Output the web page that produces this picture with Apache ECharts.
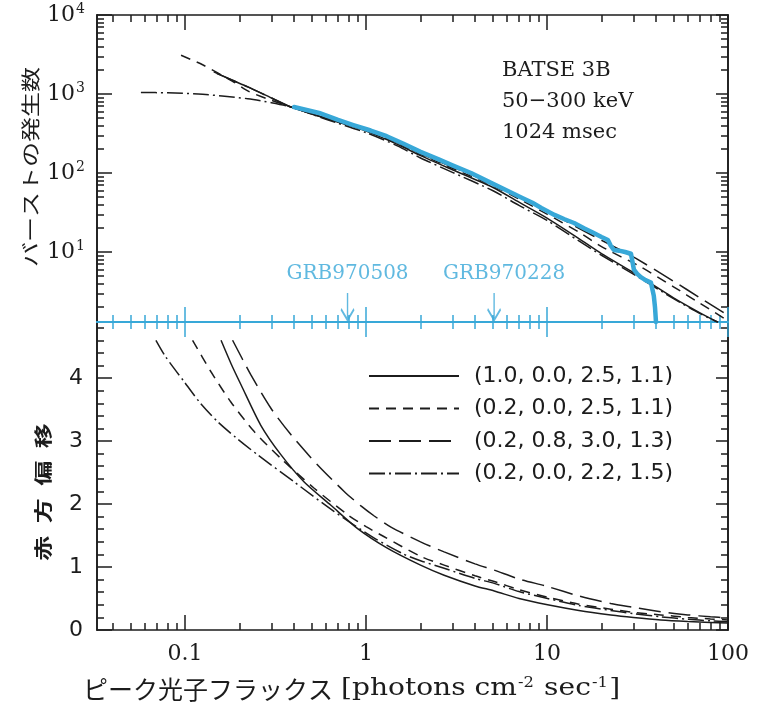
<!DOCTYPE html>
<html><head><meta charset="utf-8">
<script src="https://cdn.jsdelivr.net/npm/echarts@6/dist/echarts.min.js"></script>
<style>html,body{margin:0;padding:0;background:#fff}#c{width:763px;height:703px}</style>
</head><body><div id="c"></div>
<script>
// ---------- axis ranges & ticks ----------
const X_MIN = 0.0326, X_MAX = 100;
const N_MIN = 1.3, N_MAX = 10000;
const Z_MIN = 0, Z_MAX = 4.89;

const xMajorTicks = [0.1, 1, 10, 100];
const xMinorTicks = [0.04,0.05,0.06,0.07,0.08,0.09, 0.2,0.3,0.4,0.5,0.6,0.7,0.8,0.9,
                     2,3,4,5,6,7,8,9, 20,30,40,50,60,70,80,90];
const xTickLabels = [0.1, 1, 10, 100];
const nMajorTicks = [10, 100, 1000, 10000];
const nMinorTicks = [2,3,4,5,6,7,8,9, 20,30,40,50,60,70,80,90,
                     200,300,400,500,600,700,800,900, 2000,3000,4000,5000,6000,7000,8000,9000];
const nTickLabels = [10, 100, 1000, 10000];
const zMajorTicks = [0, 1, 2, 3, 4];
const zMinorTicks = [0.2,0.4,0.6,0.8, 1.2,1.4,1.6,1.8, 2.2,2.4,2.6,2.8, 3.2,3.4,3.6,3.8, 4.2,4.4,4.6,4.8];
const zTickLabels = [0, 1, 2, 3, 4];

const modelNames = ['(1.0, 0.0, 2.5, 1.1)', '(0.2, 0.0, 2.5, 1.1)', '(0.2, 0.8, 3.0, 1.3)', '(0.2, 0.0, 2.2, 1.5)'];
const infoLines = ['BATSE 3B', '50\u2212300 keV', '1024 msec'];
const xTitleJa = 'ピーク光子フラックス';
const yTitleTop = 'バーストの発生数';
const yTitleBottom = '赤\u2002方\u2002偏\u2002移';

// ---------- top panel: burst counts N(>P) ----------
const batseFlux  = [0.40,0.55,0.7,0.85,1.06,1.3,1.6,2.0,2.5,3.0,3.8,4.9,6.0,7.2,8.3,9.3,11,12.5,14.1,16,18,20,21.7,22.5,23.4,25,27,29.1,30.2,31.5,33,35,37.5,38.9,39.5,40];
const batseCount = [684,575,470,405,345,292,236,185,150,125,100,75,60,49,42,36,29.5,26,23.3,20,17.5,15.5,14.2,12,10.6,10.4,10.0,9.5,6.0,5.3,4.8,4.4,4.1,2.8,2.0,1.3];

const topSolidFlux  = [0.144,0.18,0.222,0.3,0.385,0.6,1.0,1.5,2.0,3.0,5.0,7.0,10,15,20,30,50,70,88];
const topSolidCount = [1905,1514,1230,891,684,490,339,229,166,110,66,42.7,26.9,14.8,9.55,5.5,2.63,1.70,1.29];

const topShortFlux  = [0.095,0.125,0.183,0.226,0.3,0.385,0.6,1.0,1.5,2.0,3.0,5.0,7.0,10,15,20,33,50,70,100];
const topShortCount = [3090,2344,1445,1072,832,684,495,347,234,172,115,69,46.8,30.2,17.8,11.7,6.46,3.63,2.24,1.35];

const topLongFlux  = [0.15,0.18,0.222,0.3,0.385,0.6,1.0,1.5,2.0,3.0,5.0,7.0,10,15,20,24.5,31,50,70,100];
const topLongCount = [1820,1514,1230,891,684,495,351,240,176,119,73.3,50.1,33.1,20.0,14.1,11.1,8.3,4.27,2.63,1.58];

const topDotFlux  = [0.057,0.08,0.118,0.16,0.222,0.3,0.385,0.6,1.0,1.5,2.0,3.0,5.0,7.0,10,15,20,30,50,70,88];
const topDotCount = [1047,1035,1000,944,871,776,684,479,324,219,155,102,60,38.9,25.1,13.8,9.1,5.25,2.57,1.66,1.29];

// ---------- bottom panel: redshift ----------
const zSolidFlux = [0.158,0.18,0.204,0.262,0.339,0.455,0.639,0.898,1.31,2.0,2.7,4.0,5.11,7.0,10.07,15,22.5,30,42.5,60,80,100];
const zSolid     = [4.60,4.22,3.89,3.25,2.78,2.35,1.98,1.61,1.30,1.03,0.87,0.70,0.62,0.50,0.40,0.31,0.24,0.20,0.16,0.135,0.12,0.11];

const zShortFlux = [0.110,0.139,0.179,0.241,0.339,0.517,0.791,1.0,1.26,2.0,2.7,4.0,5.11,7.0,10.07,15,22.5,30,42.5,60,80,100];
const zShort     = [4.60,4.10,3.62,3.15,2.72,2.25,1.83,1.64,1.48,1.17,1.03,0.86,0.77,0.64,0.52,0.41,0.33,0.28,0.24,0.20,0.175,0.16];

const zLongFlux = [0.183,0.231,0.298,0.385,0.540,0.757,0.937,1.11,1.38,2.0,2.7,4.0,5.11,7.0,10.07,15,22.5,30,42.5,60,80,100];
const zLong     = [4.60,4.05,3.52,3.10,2.62,2.20,1.97,1.81,1.63,1.40,1.24,1.05,0.95,0.81,0.69,0.54,0.42,0.36,0.29,0.24,0.21,0.19];

const zDotFlux = [0.069,0.078,0.0989,0.12,0.151,0.19,0.252,0.401,0.667,1.11,1.6,2.0,2.7,4.0,5.11,7.0,10.07,15,22.5,30,42.5,60,80,100];
const zDot     = [4.60,4.34,3.94,3.62,3.31,3.06,2.78,2.35,1.88,1.46,1.21,1.10,0.98,0.82,0.74,0.61,0.50,0.39,0.31,0.26,0.21,0.17,0.145,0.13];

// ---------- GRB markers ----------
const grbNames = ['GRB970508', 'GRB970228'];
const grbFlux  = [0.79, 5.1];
const grbArrowLevel = 2.04;

// ---------- styles ----------
const BLUE = '#38a8d8';
const INK = '#1c1c1c';
const SERIF = 'DejaVu Serif';
const SANS = 'DejaVu Sans';
const CJK = 'Noto Sans CJK JP';
const dashStyles = ['solid', [10, 7], [22, 8], [16, 4, 2, 4]];

const zip = (a, b) => a.map((v, i) => [v, b[i]]);

function xAx(grid, pos, ticks, len, color, showLine, labels) {
  return {
    type: 'log', logBase: 10, gridIndex: grid, position: pos, min: X_MIN, max: X_MAX,
    axisLine: {show: !!showLine, onZero: false, lineStyle: {color: color, width: showLine === 'blue' ? 2 : 1.6}},
    axisTick: {show: true, inside: true, length: len, customValues: ticks, lineStyle: {color: color, width: 1.5}},
    axisLabel: labels ? {
      show: true, customValues: labels, margin: 13, color: INK, fontFamily: SERIF, fontSize: 22,
      formatter: v => String(+(+v).toPrecision(3))
    } : {show: false},
    splitLine: {show: false}, minorTick: {show: false}, minorSplitLine: {show: false}
  };
}
function yLogAx(grid, pos, ticks, len, labels) {
  return {
    type: 'log', logBase: 10, gridIndex: grid, position: pos, min: N_MIN, max: N_MAX,
    axisLine: {show: true, onZero: false, lineStyle: {color: INK, width: 1.6}},
    axisTick: {show: true, inside: true, length: len, customValues: ticks, lineStyle: {color: INK, width: 1.5}},
    axisLabel: labels ? {
      show: true, customValues: labels, margin: 12, color: INK,
      formatter: v => '{b|10}{s|' + Math.round(Math.log10(v)) + '}',
      rich: {b: {fontFamily: SERIF, fontSize: 22, color: INK}, s: {fontFamily: SERIF, fontSize: 14, color: INK, padding: [0, 0, 11, 1]}}
    } : {show: false},
    splitLine: {show: false}, minorTick: {show: false}
  };
}
function yLinAx(grid, pos, ticks, len, labels) {
  return {
    type: 'value', gridIndex: grid, position: pos, min: Z_MIN, max: Z_MAX,
    axisLine: {show: true, onZero: false, lineStyle: {color: INK, width: 1.6}},
    axisTick: {show: true, inside: true, length: len, customValues: ticks, lineStyle: {color: INK, width: 1.5}},
    axisLabel: labels ? {show: true, customValues: labels, margin: 14, color: INK, fontFamily: SANS, fontSize: 22} : {show: false},
    splitLine: {show: false}, minorTick: {show: false}
  };
}

const xAxes = [
  xAx(0, 'top', xMajorTicks, 15, INK, true, null),
  xAx(0, 'top', xMinorTicks, 7, INK, false, null),
  xAx(0, 'bottom', xMajorTicks, 15, BLUE, 'blue', null),
  xAx(0, 'bottom', xMinorTicks, 7, BLUE, false, null),
  xAx(1, 'top', xMajorTicks, 15, BLUE, 'blue', null),
  xAx(1, 'top', xMinorTicks, 7, BLUE, false, null),
  xAx(1, 'bottom', xMajorTicks, 15, INK, true, xTickLabels),
  xAx(1, 'bottom', xMinorTicks, 7, INK, false, null)
];
const yAxes = [
  yLogAx(0, 'left', nMajorTicks, 15, nTickLabels),
  yLogAx(0, 'left', nMinorTicks, 7, null),
  yLogAx(0, 'right', nMajorTicks, 12, null),
  yLogAx(0, 'right', nMinorTicks, 7, null),
  yLinAx(1, 'left', zMajorTicks, 15, zTickLabels),
  yLinAx(1, 'left', zMinorTicks, 7, null),
  yLinAx(1, 'right', zMajorTicks, 12, null),
  yLinAx(1, 'right', zMinorTicks, 7, null)
];

function curve(name, data, dash, xi, yi) {
  return {
    type: 'line', name: name, xAxisIndex: xi, yAxisIndex: yi, data: data,
    symbol: 'none', showSymbol: false, smooth: 0.25, z: 3, silent: true,
    lineStyle: {color: INK, width: 1.5, type: dash},
    itemStyle: {color: INK}
  };
}

const series = [
  curve(modelNames[0], zip(zSolidFlux, zSolid), dashStyles[0], 6, 4),
  curve(modelNames[1], zip(zShortFlux, zShort), dashStyles[1], 6, 4),
  curve(modelNames[2], zip(zLongFlux, zLong), dashStyles[2], 6, 4),
  curve(modelNames[3], zip(zDotFlux, zDot), dashStyles[3], 6, 4),
  curve(modelNames[0], zip(topSolidFlux, topSolidCount), dashStyles[0], 0, 0),
  curve(modelNames[1], zip(topShortFlux, topShortCount), dashStyles[1], 0, 0),
  curve(modelNames[2], zip(topLongFlux, topLongCount), dashStyles[2], 0, 0),
  curve(modelNames[3], zip(topDotFlux, topDotCount), dashStyles[3], 0, 0),
  {
    type: 'line', name: 'BATSE 3B', xAxisIndex: 0, yAxisIndex: 0, data: zip(batseFlux, batseCount),
    symbol: 'none', smooth: false, z: 5, silent: true,
    lineStyle: {color: BLUE, width: 4.5, cap: 'round', join: 'round'}
  },
  {
    type: 'scatter', name: 'GRB', xAxisIndex: 0, yAxisIndex: 0, z: 6, silent: true,
    symbol: 'path://M6,0L6,30M0,18L6,30L12,18', symbolSize: [13, 27],
    itemStyle: {color: 'rgba(0,0,0,0)', borderColor: BLUE, borderWidth: 2},
    label: {show: true, position: 'top', distance: 8, formatter: '{b}', color: BLUE, fontFamily: SERIF, fontSize: 20},
    data: grbNames.map((n, i) => ({name: n, value: [grbFlux[i], grbArrowLevel], label: {offset: [i === 1 ? 10 : 0, 0]}}))
  }
];

const chart = echarts.init(document.getElementById('c'), null, {renderer: 'canvas'});
chart.setOption({
  animation: false,
  backgroundColor: '#ffffff',
  grid: [
    {left: 97, right: 35, top: 15, height: 307},
    {left: 97, right: 35, top: 322, height: 308}
  ],
  xAxis: xAxes,
  yAxis: yAxes,
  legend: {
    data: modelNames, orient: 'vertical', left: 368, top: 365, padding: 0,
    itemWidth: 90, itemHeight: 14, itemGap: 10.5,
    selectedMode: false,
    itemStyle: {color: 'rgba(0,0,0,0)', borderColor: 'rgba(0,0,0,0)', borderWidth: 0},
    textStyle: {fontFamily: SANS, fontSize: 22, color: INK, padding: [0, 0, 0, 10]}
  },
  series: series,
  graphic: [
    {type: 'text', x: 31, y: 167, rotation: Math.PI / 2, scaleY: 0.75,
     style: {text: yTitleTop, font: '25px "Noto Sans CJK JP"', fill: INK, align: 'center', verticalAlign: 'middle'}},
    {type: 'text', x: 43, y: 492, rotation: Math.PI / 2, scaleY: 0.72,
     style: {text: yTitleBottom, font: 'bold 25px "Noto Sans CJK JP"', fill: INK, align: 'center', verticalAlign: 'middle'}},
    {type: 'text', x: 83, y: 689,
     style: {text: xTitleJa, font: '25px "Noto Sans CJK JP"', fill: INK, align: 'left', verticalAlign: 'middle'}},
    {type: 'text', x: 341, y: 689, scaleX: 1.17,
     style: {
       text: '{e|[photons cm}{s|-2}{e| sec}{s|-1}{e|]}',
       verticalAlign: 'middle', align: 'left', fill: INK,
       rich: {
         e: {fontFamily: SERIF, fontSize: 24, fill: INK},
         s: {fontFamily: SERIF, fontSize: 14, fill: INK, padding: [0, 1, 12, 1]}
       }
     }},
    {type: 'text', x: 502, y: 71, style: {text: infoLines[0], font: '21px "DejaVu Serif"', fill: INK, verticalAlign: 'middle'}},
    {type: 'text', x: 502, y: 102, style: {text: infoLines[1], font: '21px "DejaVu Serif"', fill: INK, verticalAlign: 'middle'}},
    {type: 'text', x: 502, y: 133, style: {text: infoLines[2], font: '21px "DejaVu Serif"', fill: INK, verticalAlign: 'middle'}}
  ]
});
</script>
</body></html>
